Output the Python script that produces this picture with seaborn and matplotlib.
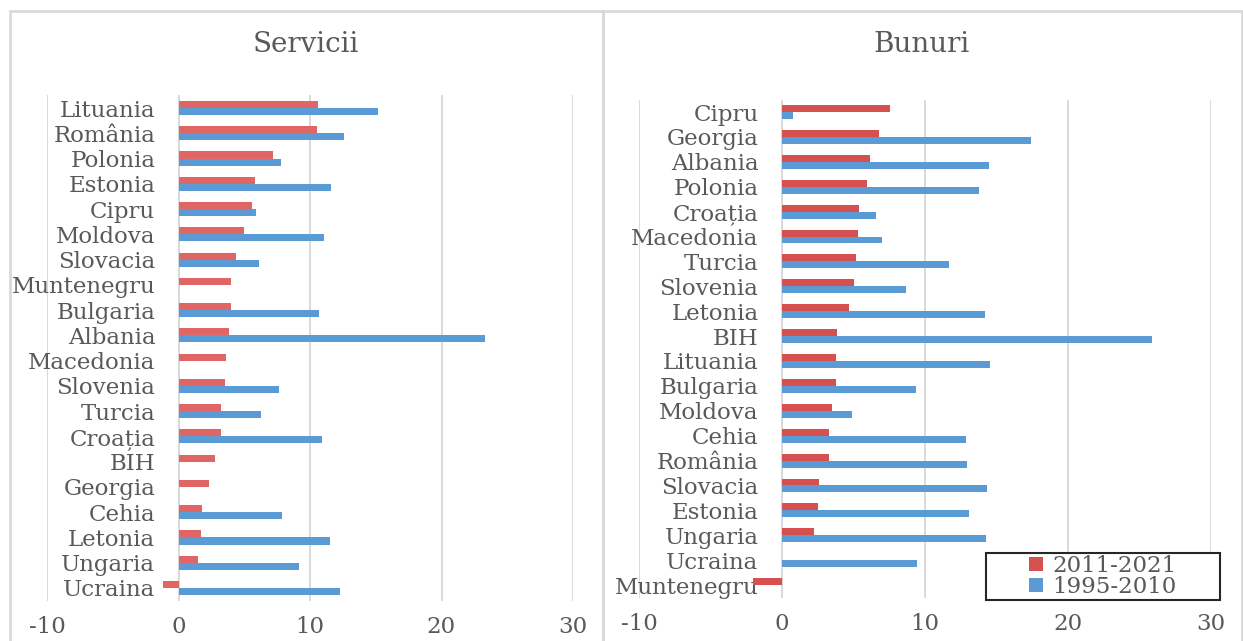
import numpy as np
import pandas as pd
import matplotlib
matplotlib.use("Agg")
import matplotlib.pyplot as plt
from matplotlib.patches import Rectangle
from matplotlib.lines import Line2D
import seaborn as sns

# ---------------- data ----------------
serv_tari = ["Lituania", "România", "Polonia", "Estonia", "Cipru", "Moldova", "Slovacia",
             "Muntenegru", "Bulgaria", "Albania", "Macedonia", "Slovenia", "Turcia", "Croația",
             "BIH", "Georgia", "Cehia", "Letonia", "Ungaria", "Ucraina"]
serv_2011_2021 = [10.6, 10.5, 7.2, 5.8, 5.6, 5.0, 4.4, 4.0, 4.0, 3.85, 3.6, 3.5, 3.25, 3.25,
                  2.75, 2.3, 1.8, 1.7, 1.5, -1.2]
serv_1995_2010 = [15.2, 12.6, 7.8, 11.6, 5.9, 11.1, 6.1, np.nan, 10.7, 23.3, np.nan, 7.65, 6.3,
                  10.9, np.nan, np.nan, 7.85, 11.5, 9.2, 12.25]

bun_tari = ["Cipru", "Georgia", "Albania", "Polonia", "Croația", "Macedonia", "Turcia", "Slovenia",
            "Letonia", "BIH", "Lituania", "Bulgaria", "Moldova", "Cehia", "România", "Slovacia",
            "Estonia", "Ungaria", "Ucraina", "Muntenegru"]
bun_2011_2021 = [7.55, 6.8, 6.15, 5.95, 5.4, 5.3, 5.2, 5.0, 4.7, 3.85, 3.8, 3.8, 3.5, 3.3, 3.3,
                 2.6, 2.5, 2.25, np.nan, -2.0]
bun_1995_2010 = [0.8, 17.4, 14.45, 13.8, 6.6, 7.0, 11.7, 8.7, 14.2, 25.85, 14.55, 9.35, 4.9, 12.85,
                 12.95, 14.35, 13.05, 14.3, 9.45, np.nan]

perioade = ["2011-2021", "1995-2010"]
titluri = ["Servicii", "Bunuri"]
xticks = [-10, 0, 10, 20, 30]

# ---------------- style ----------------
sns.set_theme(style="white")
plt.rcParams["font.family"] = ["DejaVu Serif", "DejaVu Sans"]
TXT = "#595959"
GRID = "#D9D9D9"
BLUE = "#5B9BD5"
RED_L = "#E06666"
RED_R = "#D65050"
FS = 16.5

W, H = 1243, 641
fig = plt.figure(figsize=(W / 100, H / 100), dpi=100)


def long_df(tari, a, b):
    df = pd.DataFrame({"tara": tari, perioade[0]: a, perioade[1]: b})
    df = df.melt(id_vars="tara", var_name="perioada", value_name="valoare")
    return df.dropna()


def ax_rect(x0, x1, ytop, ybot):
    return [x0 / W, (H - ybot) / H, (x1 - x0) / W, (ybot - ytop) / H]


panels = [
    (ax_rect(47, 573, 95.4, 600.6), serv_tari, serv_2011_2021, serv_1995_2010, RED_L, 78),
    (ax_rect(639, 1211, 99.6, 597.5), bun_tari, bun_2011_2021, bun_1995_2010, RED_R, 86),
]

axes = []
for rect, tari, a, b, red, pad in panels:
    ax = fig.add_axes(rect)
    df = long_df(tari, a, b)
    sns.barplot(data=df, x="valoare", y="tara", hue="perioada", order=tari,
                hue_order=perioade, palette=[red, BLUE], saturation=1, orient="h", width=0.56,
                linewidth=0, errorbar=None, ax=ax, legend=False, zorder=3)
    ax.set_xlim(-10, 30)
    ax.set_xticks(xticks)
    ax.set_xticklabels([str(t) for t in xticks])
    ax.set_xlabel("")
    ax.set_ylabel("")
    ax.set_axisbelow(True)
    ax.grid(axis="x", color=GRID, lw=1.4, zorder=0)
    ax.grid(axis="y", visible=False)
    for s in ax.spines.values():
        s.set_visible(False)
    ax.tick_params(axis="x", length=0, pad=11, labelsize=FS, labelcolor=TXT)
    ax.tick_params(axis="y", length=0, pad=-pad, labelsize=FS, labelcolor=TXT)
    ax.set_facecolor("none")
    axes.append(ax)

# titles
fig.text(306 / W, 1 - 45 / H, titluri[0], ha="center", va="center", fontsize=20, color=TXT)
fig.text(922 / W, 1 - 45 / H, titluri[1], ha="center", va="center", fontsize=20, color=TXT)

# outer chart frames
fig.patches.append(Rectangle((10 / W, -0.05), (1242 - 10) / W, (H - 11) / H + 0.05,
                             transform=fig.transFigure, fill=False, edgecolor=GRID, lw=2.0))
fig.lines.append(Line2D([603 / W, 603 / W], [-0.05, (H - 11) / H], transform=fig.transFigure,
                        color=GRID, lw=2.2))

# legend box
fig.patches.append(Rectangle((986 / W, (H - 600) / H), (1220 - 986) / W, (600 - 553) / H,
                             transform=fig.transFigure, facecolor="white", edgecolor="#262626",
                             lw=1.5, zorder=5))
handles = [Rectangle((0, 0), 1, 1, facecolor=RED_R, edgecolor="none"),
           Rectangle((0, 0), 1, 1, facecolor=BLUE, edgecolor="none")]
leg = fig.legend(handles, perioade, loc="center", bbox_to_anchor=(1103 / W, 1 - 576.5 / H),
                 frameon=False, fontsize=FS, handlelength=0.6, handleheight=0.55,
                 handletextpad=0.4, labelspacing=-0.05, borderpad=0, labelcolor=TXT)
leg.set_zorder(6)

fig.savefig("out.png", dpi=100, facecolor="white")
